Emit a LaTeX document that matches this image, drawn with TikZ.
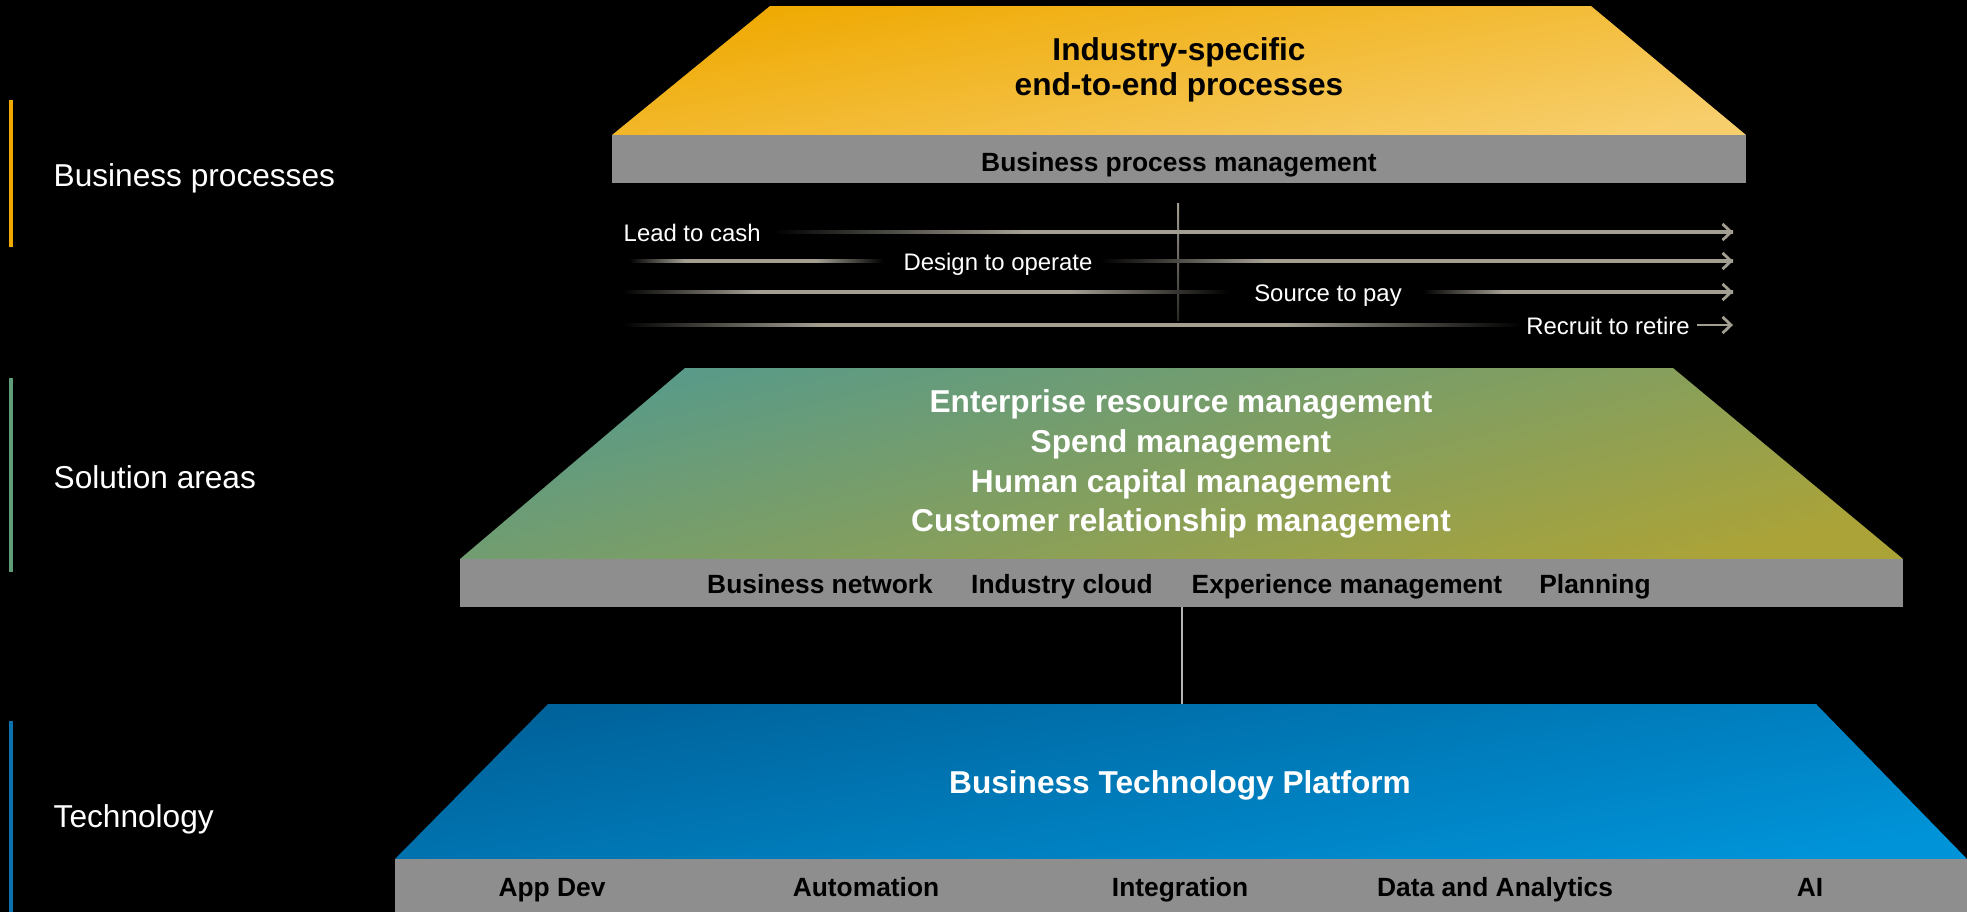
\documentclass[tikz,border=0pt]{standalone}
\usepackage{fontspec}
\setmainfont{Liberation Sans}
\usetikzlibrary{arrows.meta,calc}

\definecolor{goldtop}{HTML}{EFA900}
\definecolor{goldlow}{HTML}{F7CE6C}
\definecolor{greentop}{HTML}{579A8A}
\definecolor{greenlow}{HTML}{ABA338}
\definecolor{bluetop}{HTML}{00629A}
\definecolor{bluelow}{HTML}{0093D8}
\definecolor{greenside}{HTML}{5E9C7A}
\definecolor{blueside}{HTML}{0A70AE}
\definecolor{bargray}{HTML}{8E8E8E}
\definecolor{lngray}{HTML}{A29E92}
\definecolor{linkgray}{HTML}{B4B4B4}

\pgfdeclarehorizontalshading{fadein}{100bp}{color(0bp)=(black); color(25bp)=(black); color(38bp)=(lngray); color(100bp)=(lngray)}
\pgfdeclarehorizontalshading{fadeboth}{100bp}{color(0bp)=(black); color(25bp)=(black); color(36bp)=(lngray); color(62bp)=(lngray); color(75bp)=(black); color(100bp)=(black)}

\begin{document}
\begin{tikzpicture}[
	side/.style={font=\fontsize{9}{11}\selectfont, text=white, anchor=west, inner sep=0pt},
	title/.style={font=\fontsize{9}{11}\selectfont\bfseries, inner sep=0pt, text height=1.5ex, text depth=.3ex},
	barlabel/.style={font=\fontsize{7.5}{9}\selectfont\bfseries, text=black, inner sep=0pt, text height=1.5ex, text depth=.3ex},
	proc/.style={font=\fontsize{6.8}{8}\selectfont, text=white, inner sep=0pt, text height=1.5ex, text depth=.3ex},
	tip/.style={draw=lngray, line width=.8pt, -{Straight Barb[length=2.4pt,width=4.6pt]}},
	link/.style={draw=linkgray, line width=.8pt}
]
	\fill[black] (0,0) rectangle (19.67,-9.12);
	\useasboundingbox (0,0) rectangle (19.67,-9.12);

	% left side
	\fill[goldtop] (0.09,-1.00) rectangle (0.13,-2.47);
	\fill[greenside] (0.09,-3.78) rectangle (0.13,-5.72);
	\fill[blueside] (0.09,-7.21) rectangle (0.13,-9.12);
	\node[side] (bp) at (0.53,-1.78) {Business processes};
	\node[side] (sa) at (0.53,-4.77) {Solution areas};
	\node[side] (te) at (0.53,-8.19) {Technology};

	% top layer
	\shade[top color=goldtop, bottom color=goldlow, shading angle=10] (7.70,-0.06) -- (15.91,-0.06) -- (17.46,-1.35) -- (6.12,-1.35) -- cycle;
	\fill[bargray] (6.12,-1.35) rectangle (17.46,-1.83);
	\node[title, text=black] (ind) at (11.79,-0.49) {Industry-specific};
	\node[title, text=black] (e2e) at (11.79,-0.84) {end-to-end processes};
	\node[barlabel] (bpm) at (11.79,-1.60) {Business process management};

	% processes
	\shade[top color=lngray, bottom color=lngray!25!black] (11.77,-2.03) rectangle (11.79,-3.20);
	\node[proc, anchor=west] (lc) at (6.23,-2.30) {Lead to cash};
	\node[proc] (dto) at (9.98,-2.59) {Design to operate};
	\node[proc] (stp) at (13.28,-2.90) {Source to pay};
	\node[proc] (rtr) at (16.08,-3.23) {Recruit to retire};
	\coordinate (s2) at (6.29,-2.61);
	\coordinate (s3) at (6.22,-2.92);
	\coordinate (s4) at (6.22,-3.25);
	\coordinate (e1) at (17.33,-2.32);
	\coordinate (e2) at (17.33,-2.61);
	\coordinate (e3) at (17.33,-2.92);
	\coordinate (e4) at (17.33,-3.25);

	\shade[shading=fadein] ($(lc.east |- e1)+(0.11,0.016)$) rectangle ($(e1)-(0,0.016)$);
	\shade[shading=fadeboth] ($(s2)+(0,0.016)$) rectangle ($(dto.west |- s2)-(0.2,0.016)$);
	\shade[shading=fadein] ($(dto.east |- e2)+(0.07,0.016)$) rectangle ($(e2)-(0,0.016)$);
	\shade[shading=fadeboth] ($(s3)+(0,0.016)$) rectangle ($(stp.west |- s3)-(0.25,0.016)$);
	\shade[shading=fadein] ($(stp.east |- e3)+(0.2,0.016)$) rectangle ($(e3)-(0,0.016)$);
	\shade[shading=fadeboth] ($(s4)+(0,0.016)$) rectangle ($(rtr.west |- s4)-(0.05,0.016)$);
	\foreach \e in {e1,e2,e3} {
		\draw[tip] ($(\e)-(0.3,0)$) -- (\e);
	}
	\draw[tip] ($(rtr.east |- e4)+(0.07,0)$) -- (e4);

	% middle layer
	\shade[top color=greentop, bottom color=greenlow, shading angle=14] (6.85,-3.68) -- (16.73,-3.68) -- (19.03,-5.59) -- (4.60,-5.59) -- cycle;
	\fill[bargray] (4.60,-5.59) rectangle (19.03,-6.07);
	\node[title, text=white] (erm) at (11.81,-4.01) {Enterprise resource management};
	\node[title, text=white] (spm) at (11.81,-4.41) {Spend management};
	\node[title, text=white] (hcm) at (11.81,-4.81) {Human capital management};
	\node[title, text=white] (crm) at (11.81,-5.20) {Customer relationship management};
	\node[barlabel] (bn) at (8.20,-5.82) {Business network};
	\node[barlabel] (ic) at (10.62,-5.82) {Industry cloud};
	\node[barlabel] (xm) at (13.47,-5.82) {Experience management};
	\node[barlabel] (pl) at (15.95,-5.82) {Planning};

	\coordinate (c1) at (11.82,-6.07);
	\coordinate (c2) at (11.82,-7.04);
	\draw[link] (c1) -- (c2);

	% bottom layer
	\shade[top color=bluetop, bottom color=bluelow, shading angle=10] (5.48,-7.04) -- (18.16,-7.04) -- (19.67,-8.59) -- (3.95,-8.59) -- cycle;
	\fill[bargray] (3.95,-8.59) rectangle (19.67,-9.12);
	\node[title, text=white] (btp) at (11.80,-7.82) {Business Technology Platform};
	\node[barlabel] (ad) at (5.52,-8.85) {App Dev};
	\node[barlabel] (au) at (8.66,-8.85) {Automation};
	\node[barlabel] (ig) at (11.80,-8.85) {Integration};
	\node[barlabel] (da) at (14.95,-8.85) {Data and Analytics};
	\node[barlabel] (ai) at (18.10,-8.85) {AI};
\end{tikzpicture}
\end{document}
